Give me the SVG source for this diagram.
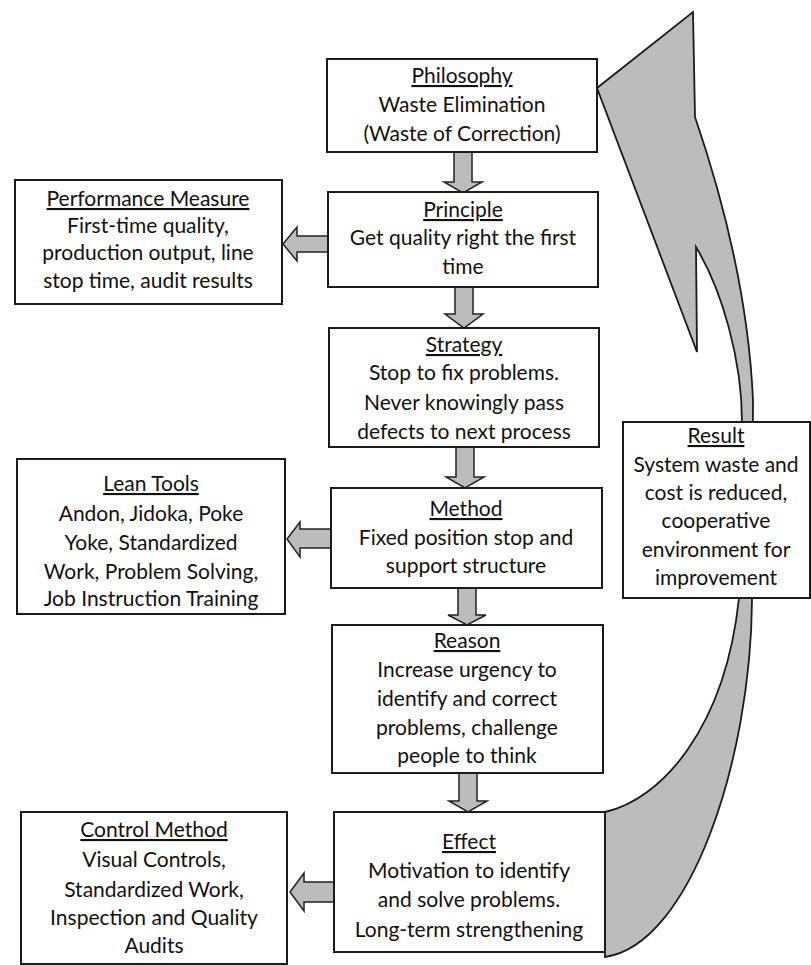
<svg xmlns="http://www.w3.org/2000/svg" width="811" height="965" viewBox="0 0 811 965">
  <style>
    .box { fill: #ffffff; stroke: #1b1b1b; stroke-width: 2; }
    .blk { fill: #bcbcbc; stroke: #222222; stroke-width: 1.5; stroke-linejoin: miter; }
    .big { fill: #bcbcbc; stroke: #1b1b1b; stroke-width: 1.8; stroke-linejoin: miter; }
    .t { font-family: Lato, "Open Sans", "Liberation Sans", sans-serif; font-size: 21px; fill: #111111; text-anchor: middle; }
    .h { text-decoration: underline; }
  </style>

  <rect width="811" height="965" fill="#ffffff"/>

  <!-- feedback arrow running from Effect back up to Philosophy -->
  <g id="feedback-arrow">
    <path class="big" d="M 597,88 L 693,12 L 695,117 C 720,190 748,290 753,400 L 752,600 C 751,760 690,945 605,957 L 605,812 C 660,800 725,730 739,598 L 742,422 C 742,360 722,290 696,247 L 697,352 Z"/>
  </g>

  <!-- block arrows between boxes -->
  <g id="connectors">
    <polygon class="blk" points="454,152 472,152 472,182 482,182 463,193 444,182 454,182"/>
    <polygon class="blk" points="455,287 473,287 473,314 483,314 464,328 445,314 455,314"/>
    <polygon class="blk" points="456,447 474,447 474,477 484,477 465,488 446,477 456,477"/>
    <polygon class="blk" points="458,588 476,588 476,615 486,615 467,625 448,615 458,615"/>
    <polygon class="blk" points="459,773 477,773 477,801 487,801 468,812 449,801 459,801"/>
    <polygon class="blk" points="328,236 297,236 297,227 283,244 297,261 297,252 328,252"/>
    <polygon class="blk" points="331,529 300,529 300,522 287,539 300,557 300,548 331,548"/>
    <polygon class="blk" points="334,882 304,882 304,873 290,892 304,911 304,902 334,902"/>
  </g>

  <g id="philosophy">
    <rect class="box" x="327" y="59" width="270" height="93"/>
    <text class="t h" x="462" y="83">Philosophy</text>
    <text class="t" x="462" y="112">Waste Elimination</text>
    <text class="t" x="462" y="141">(Waste of Correction)</text>
  </g>

  <g id="principle">
    <rect class="box" x="328" y="192" width="270" height="95"/>
    <text class="t h" x="463" y="217">Principle</text>
    <text class="t" x="463" y="245">Get quality right the first</text>
    <text class="t" x="463" y="274">time</text>
  </g>

  <g id="strategy">
    <rect class="box" x="329" y="328" width="270" height="119"/>
    <text class="t h" x="464" y="352">Strategy</text>
    <text class="t" x="464" y="380">Stop to fix problems.</text>
    <text class="t" x="464" y="410">Never knowingly pass</text>
    <text class="t" x="464" y="439">defects to next process</text>
  </g>

  <g id="method">
    <rect class="box" x="331" y="488" width="271" height="100"/>
    <text class="t h" x="466" y="516">Method</text>
    <text class="t" x="466" y="545">Fixed position stop and</text>
    <text class="t" x="466" y="573">support structure</text>
  </g>

  <g id="reason">
    <rect class="box" x="332" y="625" width="271" height="148"/>
    <text class="t h" x="467" y="648">Reason</text>
    <text class="t" x="467" y="677">Increase urgency to</text>
    <text class="t" x="467" y="706">identify and correct</text>
    <text class="t" x="467" y="735">problems, challenge</text>
    <text class="t" x="467" y="763">people to think</text>
  </g>

  <g id="effect">
    <rect class="box" x="334" y="812" width="271" height="140"/>
    <text class="t h" x="469" y="849">Effect</text>
    <text class="t" x="469" y="878">Motivation to identify</text>
    <text class="t" x="469" y="907">and solve problems.</text>
    <text class="t" x="469" y="937">Long-term strengthening</text>
  </g>

  <g id="performance-measure">
    <rect class="box" x="15" y="180" width="267" height="124"/>
    <text class="t h" x="148" y="206">Performance Measure</text>
    <text class="t" x="148" y="233">First-time quality,</text>
    <text class="t" x="148" y="260">production output, line</text>
    <text class="t" x="148" y="288">stop time, audit results</text>
  </g>

  <g id="lean-tools">
    <rect class="box" x="17" y="459" width="268" height="155"/>
    <text class="t h" x="151" y="491">Lean Tools</text>
    <text class="t" x="151" y="521">Andon, Jidoka, Poke</text>
    <text class="t" x="151" y="550">Yoke, Standardized</text>
    <text class="t" x="151" y="579">Work, Problem Solving,</text>
    <text class="t" x="151" y="606">Job Instruction Training</text>
  </g>

  <g id="control-method">
    <rect class="box" x="21" y="812" width="266" height="152"/>
    <text class="t h" x="154" y="837">Control Method</text>
    <text class="t" x="154" y="867">Visual Controls,</text>
    <text class="t" x="154" y="897">Standardized Work,</text>
    <text class="t" x="154" y="925">Inspection and Quality</text>
    <text class="t" x="154" y="953">Audits</text>
  </g>

  <g id="result">
    <rect class="box" x="623" y="422" width="187" height="176"/>
    <text class="t h" x="716" y="443">Result</text>
    <text class="t" x="716" y="472">System waste and</text>
    <text class="t" x="716" y="500">cost is reduced,</text>
    <text class="t" x="716" y="528">cooperative</text>
    <text class="t" x="716" y="557">environment for</text>
    <text class="t" x="716" y="585">improvement</text>
  </g>
</svg>
